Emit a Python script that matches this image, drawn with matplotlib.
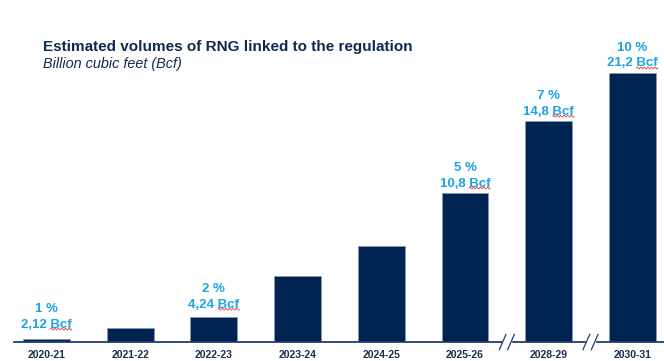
import numpy as np
import matplotlib
matplotlib.use("Agg")
import matplotlib.pyplot as plt

plt.rcParams['font.family'] = ['Liberation Sans', 'DejaVu Sans']

# Data
years = ['2020-21', '2021-22', '2022-23', '2023-24', '2024-25', '2025-26', '2028-29', '2030-31']
bar_heights = [0.24, 1.14, 1.97, 5.2, 7.56, 11.74, 17.4, 21.2]   # drawn heights
share_labels = ['1 %', '', '2 %', '', '', '5 %', '7 %', '10 %']
volume_labels = ['2,12 Bcf', '', '4,24 Bcf', '', '', '10,8 Bcf', '14,8 Bcf', '21,2 Bcf']
label_pad = [6, 0, 4.5, 0, 0, 2.5, 2.5, 2.5]   # gap above bar, points
break_after = [5, 6]   # axis break marks after these bars

navy = '#002451'
blue = '#1CA3E3'

fig = plt.figure(figsize=(6.64, 3.61), dpi=100)
ax = fig.add_axes([14 / 664, 19 / 361, 650 / 664, 342 / 361])

x = np.arange(len(years))
bars = ax.bar(x, bar_heights, width=0.56, color=navy, edgecolor='#8d9bb3', linewidth=0.4)

ax.set_xlim(-0.388, 7.378)
ax.set_ylim(0, 26.95)
for s in ['top', 'right', 'left']:
    ax.spines[s].set_visible(False)
ax.spines['bottom'].set_color('#1f3f6b')
ax.spines['bottom'].set_linewidth(1.3)
ax.set_yticks([])
ax.set_xticks(x)
ax.set_xticklabels(years, fontsize=7.5, fontweight='bold', color='#1a2d4d')
ax.tick_params(axis='x', length=0, pad=5.5)

# value labels with the red squiggle under "Bcf"
fig.canvas.draw()
renderer = fig.canvas.get_renderer()
for i, (b, s, v) in enumerate(zip(bars, share_labels, volume_labels)):
    if not s:
        continue
    top = b.get_height()
    pad = label_pad[i]
    ax.annotate(s, (i, top), xytext=(0, pad + 11.5), textcoords='offset points',
                ha='center', va='bottom', fontsize=9.5, fontweight='bold', color=blue)
    t = ax.annotate(v, (i, top), xytext=(0, pad), textcoords='offset points',
                    ha='center', va='bottom', fontsize=9.5, fontweight='bold', color=blue)
    bb = t.get_window_extent(renderer)
    x0 = bb.x0 + bb.width * 0.58
    x1 = bb.x1
    xs = np.linspace(x0, x1, 30)
    ys = bb.y0 + 1.5 + 1.0 * np.sin((xs - x0) / (x1 - x0) * 2 * np.pi * 6)
    pts = fig.transFigure.inverted().transform(np.column_stack([xs, ys]))
    fig.add_artist(plt.Line2D(pts[:, 0], pts[:, 1], color='#e8403a', linewidth=0.6))

# break marks on the axis
for k in break_after:
    xm = k + 0.5
    ax.fill_between([xm - 0.05, xm + 0.05], -0.1, 0.1, color='white', zorder=3, clip_on=False)
    for dx in (-0.05, 0.05):
        ax.plot([xm + dx - 0.04, xm + dx + 0.04], [-0.6, 0.6], color='#1f3f6b',
                linewidth=0.9, clip_on=False, zorder=4)

fig.text(43 / 664, 1 - 47 / 361, 'Estimated volumes of RNG linked to the regulation',
         fontsize=11, fontweight='bold', color='#0f2a4f', va='center')
fig.text(43 / 664, 1 - 64 / 361, 'Billion cubic feet (Bcf)',
         fontsize=10.4, style='italic', color='#0f2a4f', va='center')

fig.savefig('out.png', dpi=100)
